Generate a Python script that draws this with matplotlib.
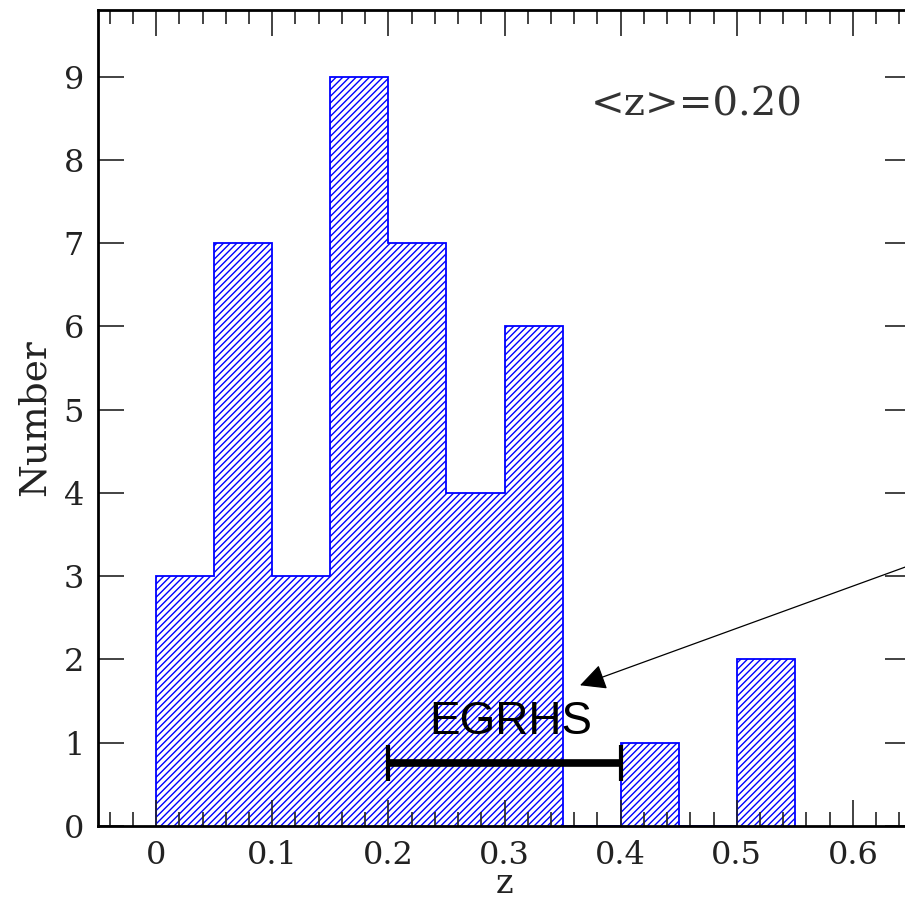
import numpy as np
import matplotlib.pyplot as plt
from matplotlib.ticker import MultipleLocator

# histogram of redshifts (bin edges, counts)
bin_edges = [0.0, 0.05, 0.10, 0.15, 0.20, 0.25, 0.30, 0.35, 0.40, 0.45, 0.50, 0.55]
counts = [3, 7, 3, 9, 7, 4, 6, 0, 1, 0, 2]

# EGRHS range marker
egrhs_range = [0.2, 0.4]
egrhs_y = 0.756
mean_label = "<z>=0.20"

plt.rcParams['hatch.linewidth'] = 1.0

fig = plt.figure(figsize=(9.05, 9.07), dpi=100)
ax = fig.add_axes([98 / 905, 81 / 907, 813 / 905, 816 / 907])

# stepped histogram with dense blue hatching
ax.stairs(counts, bin_edges, fill=True, facecolor='none', edgecolor='blue',
          hatch='/////', linewidth=1.3)

# EGRHS bar
xmid = (egrhs_range[0] + egrhs_range[1]) / 2
ax.errorbar([xmid], [egrhs_y], xerr=[(egrhs_range[1] - egrhs_range[0]) / 2],
            fmt='none', ecolor='black', elinewidth=5.5, capsize=13, capthick=3)
ax.text(0.305, 1.25, "EGRHS", family='Liberation Sans', fontsize=33,
        ha='center', va='center', color='black')

# arrow pointing to the histogram
ax.annotate("", xy=(0.365, 1.69), xytext=(0.72, 3.49),
            arrowprops=dict(arrowstyle='-|>', color='black', lw=0.9,
                            mutation_scale=40, shrinkA=0, shrinkB=0),
            annotation_clip=False)

ax.text(0.4655, 8.66, mean_label, family='DejaVu Serif', fontsize=29,
        ha='center', va='center', color='#333333')

ax.set_xlim(-0.05, 0.65)
ax.set_ylim(0, 9.8)

ax.xaxis.set_major_locator(MultipleLocator(0.1))
ax.xaxis.set_minor_locator(MultipleLocator(0.02))
ax.yaxis.set_major_locator(MultipleLocator(1))
ax.set_xticks([0, 0.1, 0.2, 0.3, 0.4, 0.5, 0.6])
ax.set_xticklabels(['0', '0.1', '0.2', '0.3', '0.4', '0.5', '0.6'])

ax.tick_params(which='both', direction='in', top=True, right=True, width=1.2,
               labelsize=23, colors='#222222')
ax.tick_params(which='major', length=19, pad=10)
ax.tick_params(which='minor', length=10)
for lab in ax.get_xticklabels() + ax.get_yticklabels():
    lab.set_family('DejaVu Serif')

for sp in ax.spines.values():
    sp.set_linewidth(2.0)

ax.set_xlabel("z", family='DejaVu Serif', fontsize=24, labelpad=-2, color='#222222')
ax.set_ylabel("Number", family='DejaVu Serif', fontsize=27, labelpad=8, color='#222222')

fig.savefig("out.png", dpi=100)
